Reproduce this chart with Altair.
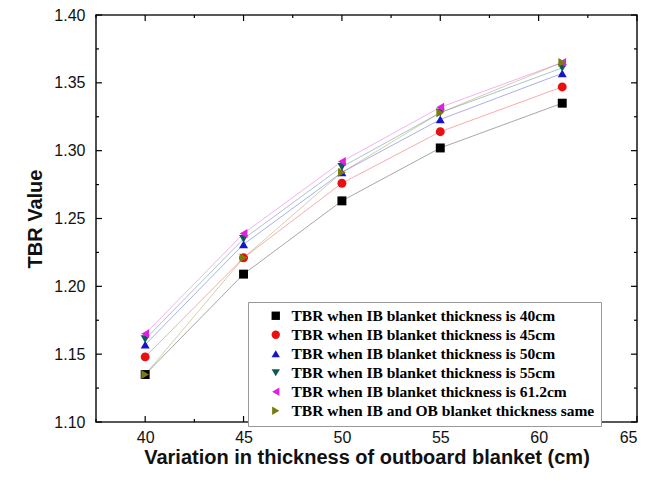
import altair as alt
import pandas as pd

x_vals = [40, 45, 50, 55, 61.2]
series_names = [
    "TBR when IB blanket thickness is 40cm",
    "TBR when IB blanket thickness is 45cm",
    "TBR when IB blanket thickness is 50cm",
    "TBR when IB blanket thickness is 55cm",
    "TBR when IB blanket thickness is 61.2cm",
    "TBR when IB and OB blanket thickness same",
]
tbr_40 = [1.135, 1.209, 1.263, 1.302, 1.335]
tbr_45 = [1.148, 1.221, 1.276, 1.314, 1.347]
tbr_50 = [1.157, 1.231, 1.284, 1.323, 1.357]
tbr_55 = [1.161, 1.235, 1.288, 1.328, 1.361]
tbr_612 = [1.165, 1.239, 1.292, 1.332, 1.365]
tbr_same = [1.135, 1.221, 1.284, 1.328, 1.365]
series_values = [tbr_40, tbr_45, tbr_50, tbr_55, tbr_612, tbr_same]
colors = ["#000000", "#e81010", "#1414c8", "#0a5a5a", "#e020e0", "#7a7a10"]
shapes = ["square", "circle", "triangle-up", "triangle-down", "triangle-left", "triangle-right"]

x_major = [40, 45, 50, 55, 60, 65]
x_minor = [37.5, 42.5, 47.5, 52.5, 57.5, 62.5]
y_major = [1.10, 1.15, 1.20, 1.25, 1.30, 1.35, 1.40]
y_minor = [1.125, 1.175, 1.225, 1.275, 1.325, 1.375]

rows = []
for i, (name, vals) in enumerate(zip(series_names, series_values)):
    for x, v in zip(x_vals, vals):
        rows.append({"series": name, "line_id": "L" + str(i), "order": i, "x": x, "tbr": v})
df = pd.DataFrame(rows)

W, H = 541, 407
xs = alt.Scale(domain=[37.5, 65], nice=False, zero=False)
ys = alt.Scale(domain=[1.10, 1.40], nice=False, zero=False)
cs = alt.Scale(domain=series_names, range=colors)
ss = alt.Scale(domain=series_names, range=shapes)
ls = alt.Scale(domain=["L" + str(i) for i in range(len(series_names))], range=colors)

x_axis = alt.Axis(values=x_major, title="Variation in thickness of outboard blanket (cm)",
                  tickSize=0, domain=False, grid=False, labelFont="Liberation Sans",
                  labelFontSize=16, labelColor="#111", labelPadding=7,
                  titleFont="Liberation Sans", titleFontSize=20, titleFontWeight="bold",
                  titleColor="#111", titlePadding=2)
y_axis = alt.Axis(values=y_major, format=".2f", title="TBR Value",
                  tickSize=0, domain=False, grid=False, labelFont="Liberation Sans",
                  labelFontSize=16, labelColor="#111", labelPadding=11,
                  titleFont="Liberation Sans", titleFontSize=20, titleFontWeight="bold",
                  titleColor="#111", titlePadding=8)

lines = alt.Chart(df).mark_line(strokeWidth=1, opacity=0.35).encode(
    x=alt.X("x:Q", scale=xs, axis=x_axis),
    y=alt.Y("tbr:Q", scale=ys, axis=y_axis),
    stroke=alt.Stroke("line_id:N", scale=ls, legend=None),
)

points = alt.Chart(df).mark_point(filled=True, size=80, opacity=1).encode(
    x=alt.X("x:Q", scale=xs),
    y=alt.Y("tbr:Q", scale=ys),
    color=alt.Color("series:N", scale=cs, legend=alt.Legend(title=None)),
    shape=alt.Shape("series:N", scale=ss, legend=alt.Legend(title=None)),
    order=alt.Order("order:Q"),
)

def xticks(vals, ln):
    d = pd.DataFrame({"v": vals})
    bot = alt.Chart(d).mark_rule(color="black", strokeWidth=1.2).encode(
        x=alt.X("v:Q", scale=xs), y=alt.value(H), y2=alt.value(H - ln))
    top = alt.Chart(d).mark_rule(color="black", strokeWidth=1.2).encode(
        x=alt.X("v:Q", scale=xs), y=alt.value(0), y2=alt.value(ln))
    return [bot, top]

def yticks(vals, ln):
    d = pd.DataFrame({"v": vals})
    left = alt.Chart(d).mark_rule(color="black", strokeWidth=1.2).encode(
        y=alt.Y("v:Q", scale=ys), x=alt.value(0), x2=alt.value(ln))
    right = alt.Chart(d).mark_rule(color="black", strokeWidth=1.2).encode(
        y=alt.Y("v:Q", scale=ys), x=alt.value(W), x2=alt.value(W - ln))
    return [left, right]

tick_layers = xticks(x_major, 6) + xticks(x_minor, 3) + yticks(y_major, 6) + yticks(y_minor, 3)

chart = alt.layer(lines, points, *tick_layers).properties(
    width=W, height=H,
    padding={"left": 88, "top": 7, "right": 20, "bottom": 50},
    autosize=alt.AutoSizeParams(type="none"),
).configure_view(
    stroke="#222", strokeWidth=1.6
).configure_legend(
    orient="none", legendX=152, legendY=287,
    fillColor="white", strokeColor="#999", padding=6,
    labelFont="Liberation Serif", labelFontWeight="bold", labelFontSize=15.5,
    labelColor="black", labelLimit=400, symbolSize=70, rowPadding=2,
    symbolOffset=14, labelOffset=8, symbolStrokeWidth=0,
)

chart.save("out.html", embed_options={"renderer": "svg", "actions": False})
